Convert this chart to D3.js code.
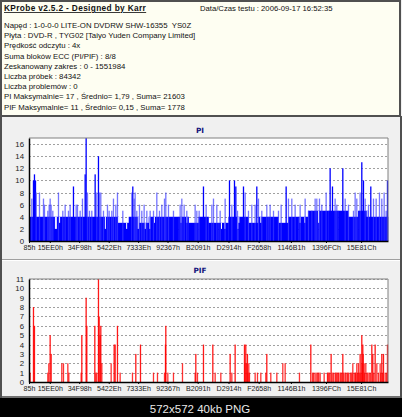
<!DOCTYPE html>
<html><head><meta charset="utf-8">
<script src="https://cdn.jsdelivr.net/npm/d3@7"></script>
<style>body{margin:0;background:#fff}svg{display:block}text{white-space:pre}</style>
</head><body>
<script>
// ---------- data ----------
const infoTitle = "KProbe v2.5.2 - Designed by Karr";
const infoDate = "Data/Czas testu : 2006-09-17 16:52:35";
const infoLines = [
  "Napęd : 1-0-0-0 LITE-ON DVDRW SHW-16355  YS0Z",
  "Płyta : DVD-R , TYG02 [Taiyo Yuden Company Limited]",
  "Prędkość odczytu : 4x",
  "Suma bloków ECC (PI/PIF) : 8/8",
  "Zeskanowany zakres : 0 - 1551984",
  "Liczba próbek : 84342",
  "Liczba problemów : 0",
  "PI Maksymalnie= 17 , Średnio= 1,79 , Suma= 21603",
  "PIF Maksymalnie= 11 , Średnio= 0,15 , Suma= 1778"
];
const caption = "572x572 40kb PNG";
const xTickLabels = ["85h","15EE0h","34F98h","5422Eh","7333Eh","92367h","B2091h","D2914h","F2658h","1146B1h","1396FCh","15E81Ch"];
const lbaMax = 1551984;
const piTicks = [0,2,4,6,8,10,12,14,16];
const piMax = 17;
const pifTicks = [0,1,2,3,4,5,6,7,8,9,10,11];
const pifMax = 11;
// PI background level, 36 equal LBA segments
const piBase = [4,4,4,4,4,4,4,4,4,3,4,3,4,4,4,4,3,4,3,3,4,4,3,4,4,3,4,4,5,5,5,5,4,5,4,4];
// PI dips [LBA (thousands), value]
const piDips = [[112,2],[116,2],[130,3],[328,2],[385,3],[420,2],[470,2],[500,2],[520,2],[540,3],[655,3],[680,3],[690,3],[830,2],[845,2],[900,2],[905,3],[1000,3],[1080,3],[1170,3],[1190,3],[1250,3],[1390,4],[1460,4],[1505,4]];
// PI spikes [LBA (thousands), value]
const piSpikes = [[11.5,7],[18.7,10],[23.0,11],[27.4,10],[30.3,8],[44.7,8],[62.0,7],[66.3,6],[80.7,5],[86.5,6],[90.8,7],[95.1,6],[102.3,5],[126.8,8],[145.5,5],[155.6,6],[170,5],[177.2,6],[191.6,9],[203.2,6],[208.9,6],[220.5,5],[230.5,7],[242.1,11],[246.4,17],[252.2,8],[260.8,5],[270.9,5],[285.3,11],[292.5,8],[299.7,14],[304.0,8],[309.8,8],[321.3,5],[338.6,6],[345.8,5],[357.3,5],[364.5,7],[374.6,6],[381.8,8],[404.9,5],[443.8,8],[448.1,9],[453.9,7],[458.2,8],[465.4,5],[477.0,6],[487.0,5],[497.1,6],[508.7,5],[523.1,5],[537.5,5],[551.9,8],[563.4,5],[573.5,6],[585.1,7],[590.8,8],[602.4,6],[623.9,5],[652.8,6],[660.0,7],[670.1,6],[681.6,5],[717.6,6],[724.8,5],[734.9,5],[753.6,9],[765.2,6],[789.7,6],[796.9,7],[811.3,6],[825.7,5],[847.3,7],[866.1,10],[876.2,6],[887.7,10],[893.5,9],[900.7,5],[926.6,9],[933.8,8],[948.2,5],[962.6,6],[977.0,6],[984.2,9],[991.4,7],[1005.8,5],[1027.4,6],[1041.8,6],[1056.3,5],[1077.9,5],[1089.4,6],[1111.0,9],[1121.1,7],[1135.5,7],[1149.9,6],[1171.5,6],[1193.1,7],[1207.6,5],[1222.0,5],[1236.4,7],[1243.6,7],[1255.1,7],[1265.2,6],[1283.9,8],[1301.2,12],[1311.3,9],[1322.8,7],[1330.0,6],[1356.0,12],[1366.1,7],[1380.5,6],[1402.1,5],[1409.3,8],[1416.5,7],[1430.9,8],[1438.1,13],[1445.3,10],[1452.6,7],[1467.0,6],[1477.0,9],[1488.6,7],[1500.1,7],[1514.5,8],[1524.6,7],[1534.7,8],[1543.3,5],[1549.1,10]];
// PIF spikes [LBA (thousands), value]
const pifSpikes = [[4.3,1],[18.7,8],[23.0,6],[80.7,1],[85.0,2],[90.8,5],[95.1,3],[141.2,2],[148.4,2],[167.2,2],[171.5,1],[224.8,1],[227.7,5],[246.4,9],[249.3,6],[283.9,6],[288.2,1],[292.5,1],[299.7,11],[302.6,7],[306.9,5],[309.8,6],[314.2,2],[354.5,2],[367.5,4],[371.8,4],[381.8,6],[393.4,1],[446.7,1],[461.1,3],[481.3,4],[537.5,1],[554.8,1],[585.1,1],[589.4,4],[590.8,6],[599.5,1],[623.9,1],[662.9,2],[717.6,1],[720.5,3],[727.7,1],[753.6,4],[794.0,4],[804.1,1],[828.6,1],[868.9,3],[876.2,1],[890.5,4],[930.9,4],[933,2],[936.6,4],[940,2],[943.8,3],[946,1],[949.6,2],[952.5,1],[977.0,1],[987.1,1],[1001.5,1],[1023.1,1],[1027.4,3],[1044.7,1],[1070.7,1],[1096.6,2],[1106.7,2],[1168.6,1],[1217.6,4],[1225,1],[1230,1],[1236.4,1],[1243.6,1],[1248,1],[1252,1],[1258.0,1],[1275.3,1],[1289.7,1],[1292,1],[1296,1],[1300,1],[1305.5,3],[1310,1],[1315.6,1],[1322.8,1],[1326,1],[1330,1],[1334.4,1],[1338,1],[1344.5,1],[1348,1],[1352,1],[1356.0,3],[1360,1],[1366.1,1],[1370,1],[1376.2,1],[1380,1],[1387.7,1],[1392,1],[1396,1],[1399.2,2],[1405.0,1],[1410,1],[1412,1],[1416.5,2],[1420,1],[1423.7,2],[1427,1],[1430.9,3],[1434,1],[1438.1,5],[1440,2],[1442.4,4],[1444,3],[1448.2,2],[1450,1],[1455.4,2],[1459.7,1],[1464,1],[1470,1],[1475,1],[1481.4,4],[1485.6,3],[1490,1],[1495.8,4],[1503.0,2],[1510,1],[1517.4,2],[1520,1],[1524.6,3],[1528,1],[1531.8,3],[1539.0,1],[1545,1],[1549.1,4]];

// ---------- layout ----------
const W = 402, H = 417;
const FONT = "'Liberation Sans', Arial, sans-serif";
const svg = d3.select("body").append("svg").attr("width", W).attr("height", H);

svg.append("rect").attr("x",0).attr("y",0).attr("width",W).attr("height",H).attr("fill","#f0f0f0");
// info box
svg.append("rect").attr("x",1).attr("y",1).attr("width",399).attr("height",115)
  .attr("fill","#fefef2").attr("stroke","#505050").attr("stroke-width",2);
svg.append("text").attr("x",4).attr("y",11).attr("font-family",FONT).attr("font-size",8.3)
  .attr("letter-spacing",0.35)
  .attr("font-weight","bold").attr("text-decoration","underline").attr("fill","#111").text(infoTitle);
svg.append("text").attr("x",200).attr("y",11).attr("font-family",FONT).attr("font-size",7.7)
  .attr("fill","#111").text(infoDate);
svg.append("g").selectAll("text").data(infoLines).join("text")
  .attr("x",4).attr("y",(d,i)=>28+i*10.2).attr("font-family",FONT).attr("font-size",7.8)
  .attr("fill","#111").text(d=>d);

// outer frame for panels
svg.append("line").attr("x1",1).attr("x2",1).attr("y1",116).attr("y2",398).attr("stroke","#505050").attr("stroke-width",2);
svg.append("line").attr("x1",401).attr("x2",401).attr("y1",116).attr("y2",398).attr("stroke","#505050").attr("stroke-width",2);
svg.append("line").attr("x1",2).attr("x2",400).attr("y1",259.5).attr("y2",259.5).attr("stroke","#a0a0a0");
svg.append("line").attr("x1",2).attr("x2",400).attr("y1",260.5).attr("y2",260.5).attr("stroke","#ffffff");
svg.append("line").attr("x1",2).attr("x2",400).attr("y1",397).attr("y2",397).attr("stroke","#707070").attr("stroke-width",2);

// caption bar
svg.append("rect").attr("x",0).attr("y",398).attr("width",W).attr("height",19).attr("fill","#000");
svg.append("text").attr("x",200).attr("y",413).attr("text-anchor","middle").attr("font-family",FONT)
  .attr("font-size",11.5).attr("fill","#e8e8e8").text(caption);

const x = d3.scaleLinear().domain([0, lbaMax]).range([29, 388]);
const tickVals = xTickLabels.map(s => parseInt(s.slice(0,-1),16));

function panel(title, titleY, top, bottom, yMax, yTicks, drawData) {
  const y = d3.scaleLinear().domain([0, yMax]).range([bottom, top]);
  svg.append("text").attr("x",200).attr("y",titleY).attr("text-anchor","middle")
    .attr("font-family","'DejaVu Sans', Verdana, sans-serif").attr("font-weight","bold")
    .attr("font-size",7.3).attr("fill","#10107a").text(title);
  svg.append("rect").attr("x",x.range()[0]).attr("y",top).attr("width",x.range()[1]-x.range()[0])
    .attr("height",bottom-top).attr("fill","#ffffff");
  // grid
  svg.append("g").selectAll("line").data(yTicks.filter(v=>v>0)).join("line")
    .attr("x1",x.range()[0]).attr("x2",x.range()[1]).attr("y1",d=>Math.round(y(d))+0.5).attr("y2",d=>Math.round(y(d))+0.5)
    .attr("stroke","#a0a0a0").attr("stroke-dasharray","2,2");
  drawData(y);
  // frame
  svg.append("line").attr("x1",x.range()[0]).attr("x2",x.range()[1]).attr("y1",top).attr("y2",top).attr("stroke","#808080");
  svg.append("line").attr("x1",x.range()[1]).attr("x2",x.range()[1]).attr("y1",top).attr("y2",bottom).attr("stroke","#808080");
  // axes
  const ya = d3.axisLeft(y).tickValues(yTicks).tickSize(0).tickPadding(5);
  const gy = svg.append("g").attr("transform",`translate(${x.range()[0]},0)`).call(ya);
  gy.select(".domain").attr("stroke","#000").attr("stroke-width",1.5);
  gy.selectAll("text").attr("font-family",FONT).attr("font-size",7.8).attr("fill","#222");
  const xa = d3.axisBottom(x).tickValues(tickVals).tickFormat((d,i)=>xTickLabels[i]).tickSize(2).tickSizeOuter(0).tickPadding(2);
  const gx = svg.append("g").attr("transform",`translate(0,${bottom})`).call(xa);
  gx.select(".domain").attr("stroke","#000").attr("stroke-width",1.5);
  gx.selectAll(".tick line").attr("stroke","#000");
  gx.selectAll("text").attr("font-family",FONT).attr("font-size",7.1).attr("fill","#222");
}

panel("PI", 132.5, 138, 241, piMax, piTicks, y => {
  const seg = lbaMax / piBase.length;
  const g = svg.append("g");
  g.selectAll("rect.base").data(piBase).join("rect").attr("class","base")
    .attr("x",(d,i)=>x(i*seg)).attr("width",(d,i)=>x((i+1)*seg)-x(i*seg)+0.3)
    .attr("y",d=>y(d)).attr("height",d=>y(0)-y(d)).attr("fill","#0000ff");
  const baseAt = d => piBase[Math.min(piBase.length-1,Math.floor(d[0]*1000/seg))];
  g.selectAll("rect.dip").data(piDips).join("rect").attr("class","dip")
    .attr("x",d=>x(d[0]*1000)).attr("width",1)
    .attr("y",d=>y(baseAt(d))).attr("height",d=>y(d[1])-y(baseAt(d)))
    .attr("fill","#ffffff");
  g.selectAll("rect.sp").data(piSpikes).join("rect").attr("class","sp")
    .attr("x",d=>x(d[0]*1000)-0.5).attr("width",1.3)
    .attr("y",d=>y(d[1])).attr("height",d=>y(0)-y(d[1]))
    .attr("fill",d=>d[1]>=9 ? "#0000ff" : "#3a3aff").attr("opacity",d=>d[1]>=9 ? 1 : 0.7);
});

panel("PIF", 272.5, 279, 382, pifMax, pifTicks, y => {
  svg.append("g").selectAll("rect").data(pifSpikes).join("rect")
    .attr("x",d=>x(d[0]*1000)-0.5).attr("width",1.3)
    .attr("y",d=>y(d[1])).attr("height",d=>y(0)-y(d[1]))
    .attr("fill","#ff0000").attr("opacity",d=>d[1]>=3 ? 0.9 : 0.8);
});
</script>
</body></html>
